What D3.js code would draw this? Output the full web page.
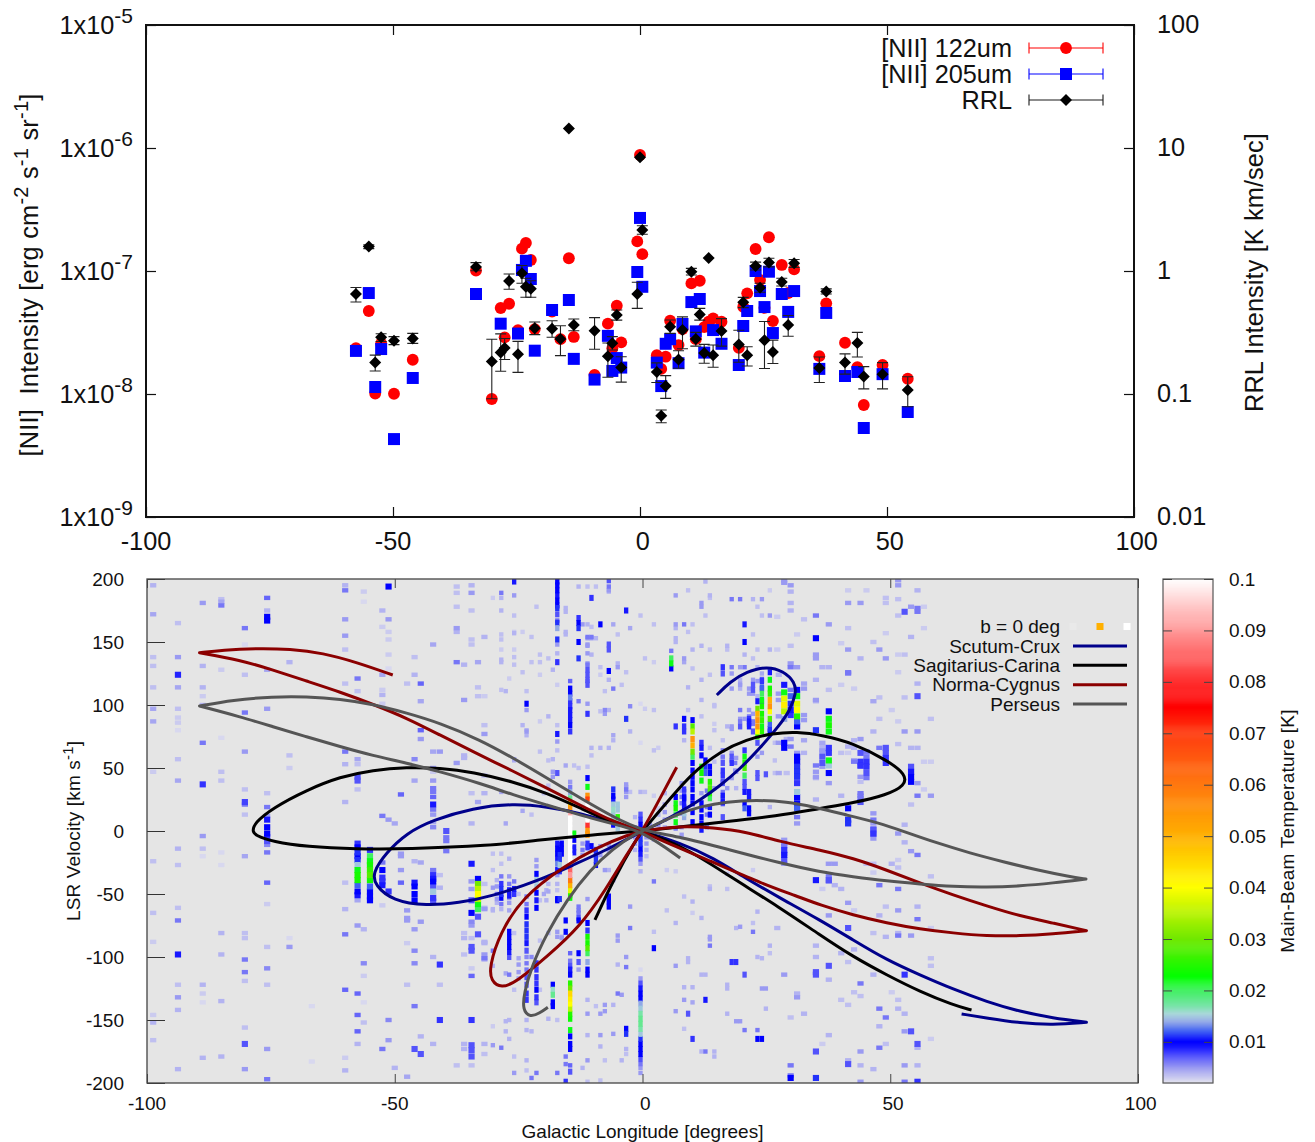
<!DOCTYPE html>
<html>
<head>
<meta charset="utf-8">
<script src="https://cdn.jsdelivr.net/npm/d3@7"></script>
<style>
html,body{margin:0;padding:0;background:#fff}
svg{display:block}
text{font-family:"Liberation Sans",Arial,sans-serif;fill:#111}
</style>
</head>
<body>
<svg id="c" width="1315" height="1142"></svg>
<script>
// ---------- top panel data ----------
const lon = [-57.5,-54.9,-53.6,-52.4,-49.8,-46,-33.2,-30,-28.2,-27.4,-26.5,-24.7,-23.9,-23.1,-22.1,-21.3,-17.8,-16.1,-14.4,-13.4,-9.2,-6.5,-5.6,-4.7,-3.8,-0.55,0,0.47,3.4,4.3,5.2,6.1,7.8,8.6,10.4,11.3,12.1,13,13.9,14.8,16.5,20,20.9,21.7,23.4,24.3,25.2,26.1,26.9,28.7,30,31.2,36.3,37.7,41.5,44,45.3,49.1,54.2];
// [NII] 122um, units of 1e-8 erg cm-2 s-1 sr-1
const nii122 = [2.36,4.73,1.01,2.58,1.005,1.90,10.1,0.91,5.0,2.89,5.42,3.31,15.2,16.9,12.3,3.37,4.67,2.79,12.7,2.91,1.43,3.73,2.36,5.22,2.63,17.4,87.7,13.7,2.07,1.60,2.01,3.94,2.50,3.37,7.93,2.79,8.33,3.50,3.87,4.12,3.87,2.37,5.12,6.58,15.1,8.45,5.02,18.8,3.92,11.2,6.62,10.3,2.03,5.46,2.61,1.65,0.814,1.72,1.33];
// [NII] 205um, same units
const nii205 = [2.24,6.62,1.14,2.32,0.43,1.35,6.50,null,3.73,null,null,3.10,10.2,12.1,8.61,2.25,4.82,null,5.81,1.93,1.31,2.97,1.54,1.96,1.64,9.81,27.0,7.44,1.80,1.16,2.56,2.79,1.78,3.71,5.59,3.23,5.92,2.17,null,3.31,2.56,1.72,3.57,4.73,10.0,6.87,5.09,9.87,3.13,6.50,4.65,6.87,1.60,4.56,1.40,1.51,0.529,1.45,0.714];
// RRL integrated intensity, K km/s
const rrl = [0.65,1.58,0.18,0.289,0.271,0.283,1.08,0.184,0.217,0.237,0.83,0.21,0.957,0.744,0.716,0.342,0.34,0.28,14.4,0.364,0.327,0.203,0.258,0.439,0.164,0.65,8.4,2.15,0.151,0.0666,0.116,0.352,0.191,0.331,0.987,0.28,0.443,0.215,1.275,0.207,0.325,0.253,0.557,0.207,1.10,0.73,0.273,1.17,0.22,0.815,0.364,1.155,0.163,0.68,0.18,0.26,0.139,0.145,0.108];
const rrlLow = [0.559,1.52,0.154,0.267,0.252,0.258,1.005,0.0916,0.153,0.191,0.71,0.15,0.794,0.611,0.611,0.304,0.289,0.205,null,0.327,0.231,0.137,0.228,0.399,0.125,0.497,null,1.99,0.124,0.0584,0.0922,0.311,0.162,0.233,0.928,0.245,0.399,0.178,null,0.165,0.245,0.181,0.504,0.169,1.02,0.671,0.161,1.08,0.177,0.756,0.295,1.07,0.124,0.65,0.145,0.20,0.11,0.11,0.0788];
const rrlHigh = [0.734,1.63,0.207,0.309,0.293,0.311,1.17,0.279,0.308,0.283,0.945,0.268,1.11,0.873,0.833,0.385,0.394,0.359,null,0.407,0.418,0.26,0.293,0.482,0.201,0.81,null,2.33,0.179,0.0741,0.141,0.40,0.225,0.424,1.05,0.317,0.497,0.253,null,0.25,0.41,0.33,0.61,0.242,1.18,0.794,0.388,1.27,0.274,0.874,0.435,1.24,0.20,0.715,0.212,0.317,0.167,0.18,0.138];
const topXTicks = [-100,-50,0,50,100];
const leftExp = [-5,-6,-7,-8,-9];
const rightTicks = [100,10,1,0.1,0.01];
const topLegend = ["[NII] 122um","[NII] 205um","RRL"];

// ---------- bottom panel data: spiral arms, [longitude deg, velocity km/s] ----------
const scutumCrux = [[15,107.9],[17.7,118.5],[21,126.4],[25.1,130.8],[28.4,127],[30.8,118],[31,109.3],[29.8,96],[27.7,84.1],[23.7,65.6],[19.7,49.4],[15.6,35.7],[11.6,24.6],[7.6,15.1],[3.5,6.3],[0,0],[-7.2,-15],[-14,-27],[-20.7,-38.9],[-30.8,-52.4],[-37,-57],[-43.6,-59.4],[-50.4,-55.4],[-54,-43],[-54.5,-33.3],[-51.8,-17.5],[-47.6,-1.6],[-42.3,8.7],[-34.2,18.3],[-26.1,21.8],[-19.3,19.3],[-12.6,14.3],[-6,6.3],[0,0],[7.6,-9.5],[14.2,-21],[21,-38],[27.7,-53],[35.8,-70.6],[42.5,-86.5],[49.3,-102.4],[56,-114.3],[62.7,-125.6],[69.5,-135.5],[76.2,-143.4],[82.8,-148.4],[89.6,-151.8],[89.6,-151.8],[89.6,-151.8],[82.8,-154],[76.2,-152.4],[69.5,-148.4],[64.4,-145.2]];
const sagCarina = [[-9.6,-70.6],[-5.9,-38.9],[-1.2,-6],[0,0],[7.6,35.2],[10.9,48.4],[15.6,62.9],[21,72.8],[26.3,77.5],[31.1,78.8],[36.4,75.9],[42.5,69.8],[49.3,56.3],[53.2,45],[53,36],[49.3,28.6],[42.5,22.2],[35.8,18],[27.7,12.1],[14.2,6.3],[7.6,3.2],[0,0],[-10.6,-3.2],[-20.7,-7.1],[-30.8,-11.7],[-47.6,-14.3],[-57.7,-14.3],[-67.8,-12.5],[-74.6,-8.5],[-78.3,-3.2],[-78.7,0],[-78.3,6.3],[-74.6,18.3],[-67.8,32.5],[-61,43.1],[-54.4,48.4],[-47.6,50.6],[-40.9,50],[-34.2,46.8],[-26.1,39.1],[-19.3,30.2],[-12.6,18.3],[-6,6.3],[0,0],[8.9,-13.5],[17.7,-36.3],[27.7,-60.7],[35.8,-82.5],[42.5,-99.8],[49.3,-114.3],[56,-127.5],[62.7,-138.1],[66.4,-142.1]];
const normaCygnus = [[6.9,50.6],[3.45,25.3],[0,0],[-3.9,-23],[-7.2,-45.2],[-12.6,-76],[-19.3,-99.8],[-25.4,-119.6],[-28.5,-125],[-30.6,-119],[-30.9,-107.7],[-28.8,-81],[-24.1,-52.1],[-16,-28.3],[-9.2,-13],[-2.5,-2.4],[0,0],[7.6,4.2],[14.2,2.6],[21,-0.6],[27.7,-8.5],[35.8,-15],[42.5,-21.6],[49.3,-31],[56,-41.3],[62.7,-50.8],[69.5,-59.5],[76.2,-67.5],[82.8,-73],[89.6,-79.1],[89.6,-79.1],[89.6,-79.1],[82.8,-81.7],[76.2,-83.3],[69.5,-83.3],[62.7,-81],[56,-77.8],[49.3,-73],[42.5,-66.7],[35.8,-58.7],[31.1,-51.6],[24.3,-42],[14.2,-24.6],[3.5,-7.1],[0,0],[-6,7.4],[-12.6,20.6],[-19.3,34.1],[-26.1,47.5],[-34.2,62.9],[-40.9,76.2],[-47.6,89.7],[-54.4,100.6],[-61,110.3],[-67.8,119],[-74.6,127.8],[-81.2,135.7],[-89.4,141.5],[-89.4,141.5],[-89.4,141.5],[-84.7,143.7],[-77.9,144.9],[-71.1,144.4],[-64.5,141.3],[-57.7,133.9],[-50.4,123.8]];
const perseus = [[-19.1,-139.9],[-20.7,-144.4],[-22.7,-147.9],[-24.2,-142.1],[-23.9,-128.6],[-22.4,-107.7],[-19.3,-81],[-15.3,-54.8],[-10.6,-31],[-6,-14.1],[-1.2,-1.6],[0,0],[7.6,14.3],[11.6,19.3],[17,23.3],[23,24.6],[29.1,23.3],[34.4,19.3],[41.2,12.7],[47.9,6.3],[52.6,-0.2],[59.4,-9.5],[66.1,-17.5],[72.8,-24.4],[79.6,-31],[86.3,-36.3],[89.5,-38.1],[89.5,-38.1],[89.5,-38.1],[82.8,-41.3],[76.2,-43.7],[69.5,-44.7],[62.7,-44.2],[56,-42.1],[49.3,-39.7],[42.5,-36.3],[35.8,-32.5],[27.7,-25.4],[17.7,-15.1],[7.6,-4.5],[0,0],[-6,11.3],[-12.6,26.2],[-19.3,42.1],[-26.1,57.9],[-32.8,72.4],[-40.9,85.7],[-47.6,93.7],[-54.4,100.6],[-61,104.8],[-67.8,106.6],[-74.6,106.6],[-82.7,104],[-89.4,99.2],[-89.4,99.2],[-89.4,99.2],[-81.2,90.7],[-74.6,82.8],[-67.8,74.8],[-61,66.9],[-54.4,59.8],[-47.6,54],[-40.9,47.1],[-32.8,37.9],[-26.1,28.6],[-19.3,20.6],[-12.6,12.7],[-6,5.6],[0,0],[7.6,-21.4]];
const armNames = ["Scutum-Crux","Sagitarius-Carina","Norma-Cygnus","Perseus"];
const armColors = ["#00008b","#000000","#8b0000","#555555"];

// ---------- bottom panel data: brightness cells, [lon deg, [v km/s, T mK, ...]] ----------
const heatColumns = [
[-98.75,[195,4,172,4.5,138,3.5,131,3.5,114,3.5,97,4.5,87,4.5,47,3,-24,3.5,-65,3.5,-88,3,-146,3,-152,4,-166,3.5]],
[-93.75,[165,3.5,138,5,124,8.5,114,4.5,97,3.5,90,3,86,3,80,2.5,57,3.5,40,4.5,-14,4,-27,3.5,-61,3.5,-71,6,-98,9,-122,3.5,-132,5,-142,4,-189,4]],
[-88.75,[181,5,131,4,114,4,107,3,100,4,70,6,37,8,-4,5,-14,3.5,-20,2.5,-122,4,-129,3,-136,2.5,-180,4]],
[-85,[184,3.5,182,4.5,179,6,128,3,74,2.5,47,3.5,40,3.5,-17,2.5,-27,2.5,-81,4,-98,4,-135,4,-179,4]],
[-80.25,[161,6,148,2.5,124,3.5,94,6,63,5,33,3.5,23,7.5,21,6,13,3.5,-20,4.5,-81,3.5,-85,3.5,-102,6,-112,6,-119,3.5,-156,3.5,-169,7,-189,5]],
[-75.75,[185,6.5,175,4,170,10,167,10,128,4.5,97,5,30,3.5,19,6,12,5,9,9,3,10,-2,10,-5,8,-8,7,-11,5.5,-17,6,-41,6.5,-58,3,-92,3.5,-109,5.5,-122,3.5,-173,5,-197,6]],
[-71.25,[134,4,60,3.5,50,3,-92,5,-85,2.5]],
[-66.75,[-139,2.5,-183,2.5]],
[-60,[195,4,191,6,168,5,155,5,144,3.5,117,3.5,63,6,53,4,23,4,-41,3.5,-62,4,-82,6,-126,6.5,-180,3,-190,4]],
[-57.5,[121,6,111,3.5,57,4.5,53,3.5,43,7,40,7,33,3.5,-10,8,-13,10,-17,11,-20,10,-23,11,-27,15,-31,22,-35,24,-39,24,-43,12,-48,10,-51,9,-55,4.5,-75,5,-129,6.5,-146,6.5,-159,6.5,-169,4]],
[-56.25,[190,3,182,2.5,-78,4,-105,5.5,-115,3,-136,2.5,-152,3.5]],
[-55,[-15,8,-20,20,-24,22,-27,24,-31,26,-35,28,-39,24,-44,12,-48,10,-52,10,-55,10]],
[-52.5,[175,4,162,3,124,4.5,112,3,108,4,101,3,12,6,-25,6,-31,10,-37,8,-40,8,-43,9,-59,3,-173,6]],
[-51.25,[194,10,168,5,158,3,152,3,140,3,129,2.5,9,5,-48,8,-150,5.5,-166,5]],
[-50,[6,4.5,-188,4]],
[-48.75,[29,6.5,-18,5,-20,5,-31,5,-41,6.5]],
[-47.5,[117,3.5,-63,5,-69,5,-71,5,-89,3,-122,3.5,-195,4.5]],
[-46,[138,3.5,124,4,57,5.5,40,4.5,-24,4,-41,9,-44,10,-50,10,-55,10,-78,5,-95,5.5,-105,5.5,-139,6,-173,7]],
[-44.75,[117,6.5,103,4.5,80,6.5,73,5,-25,4.5,-72,5,-163,4,-177,7]],
[-42.25,[148,4.5,63,4.5,47,3,50,5,40,5,34,6,31,6,27,6.5,21,9,17,6,13,5,7,4.5,3,5.5,-31,6,-35,8,-38,9,-40,10,-44,7,-48,15,-53,8,-56,7,-100,4,-169,4]],
[-40.9,[63,5,-35,3.5,-45,4,-106,8,-122,3.5,-150,8]],
[-39.6,[0,7,-5,6,-8,6,-16,6]],
[-37.5,[194,3.5,189,3.5,178,3.5,161,5,158,4,134,6,54,5,-186,3.5]],
[-36,[132,4,104,5,60,4,58,4,-81,3.5,-85,4,-98,3.5,-169,4,-173,4]],
[-34.5,[195,4,189,5,175,3.5,152,3.5,148,3.5,30,3.5,6,4,-26,9,-40,5,-46,5,-55,7,-65,10,-72,5.5,-75,5,-85,3.5,-92,7,-95,7,-109,3,-115,6.5,-150,8,-170,7,-174,7,-179,7,-186,3.5]],
[-33.2,[134,4.5,114,3.5,107,3.5,23,4.5,-38,10,-42,30,-46,35,-50,40,-54,35,-58,22,-62,20,-68,7,-82,7]],
[-31.9,[154,4,84,3.5,77,5,44,3.5,30,4,-42,3.5,-62,5,-89,4,-98,5,-102,4,-61,4,-88,4,-101,6,-169,4,-177,3.5,107,3]],
[-30.2,[185,3,-18,3.5,-31,3.5,-45,5,-62,4,-63,4,-95,6,-107,4,-155,3,-170,5]],
[-29.4,[-39,4,-44,5,-50,6,-54,5,-57,4]],
[-28.5,[189,6,185,4,175,4,156,3.5,152,3.5,144,3,136,4,134,4,112,3.5,31,4.5,-18,3.5,-26,3.5,-36,6,-42,8,-46,11,-50,11,-53,10,-58,6,-62,4,-172,6]],
[-27.6,[111,4,6,4.5,-113,4.5,-151,4,-159,4]],
[-26.9,[121,3,-22,4,-36,5,-42,6,-47,9,-51,9,-52,7,-57,5,-63,4.5,-80,10,-84,10,-88,10,-92,10,-96,9,-100,7,-114,6,-150,4,-165,4]],
[-25.9,[198,9,187,5,171,3.5,158,3,157,4,144,3,138,3.5,132,3.5,57,4.5,56,4,-40,6,-46,9,-50,8,-81,3.5,-126,3.5,-179,3.5,-192,5]],
[-25,[-50,3.5,-101,4.5,-106,5,-112,5,-117,4.5]],
[-24.2,[158,3,126,3.5,84,4,16,4.5]],
[-23.4,[111,3.5,101,10,96,5,80,4,79,5,76,4,-52,6,-58,6,-63,8,-68,10,-74,11,-79,11,-84,11,-89,9,-95,7,-100,5.5,-105,6,-110,6,-116,7,-122,7,-129,8,-134,8,-150,4,-158,4,-182,4,-190,3.5]],
[-22.4,[154,3.5,134,3.5,13,3.5,-100,5.5,-159,4,-196,6]],
[-21.4,[178,3.5,-23,5,-28,5,-34,10,-39,15,-44,15,-49,10,-55,9,-61,10,-105,8,-110,8,-116,8,-121,8,-126,10,-132,8,-136,7,-192,6]],
[-20.7,[140,3.5,134,3.5,124,3,87,3,63,3.5,-55,3.5,-87,3.5,-126,3.5]],
[-19.9,[30,3.5,-39,4,-50,4.5]],
[-19.4,[-47,4,-55,4]],
[-19,[137,3.5,91,4,56,3.5,36,3.5,-42,4,-48,4.5,-81,4,-149,4]],
[-18.1,[128,4,57,4,47,5,43,5,-122,10,-126,16,-130,18,-136,10,-139,10]],
[-17.2,[198,10,195,10,191,10,187,9,183,10,179,10,177,11,172,7,167,6.5,165,11,161,14,152,11,148,5,141,4,134,8,116,3,84,3.5,77,9,71,5,64,3.5,46,7,-10,9,-14,10,-18,10,-22,9,-26,13,-31,9,-35,5,-42,4,-47,3.5,-54,10,-55,10,-80,5,-84,5,-150,3.5,-192,6]],
[-16.7,[-11,8,-15,10,-19,11,-23,11,-27,15,-32,8,-54,11]],
[-16.3,[-10,10,-14,10,-18,10,-84,4.5,-85,5]],
[-15.5,[177,4,174,4,158,4,156,4,52,4.5,-71,10,-80,10,-179,6,-185,6,-199,8]],
[-14.6,[119,6.5,113,10,109,10,106,13,103,8,99,8,96,9,92,9,88,9,84,10,79,8,39,5,35,6,31,14,26,18,22,45,18,55,14,92,10,100,6,100,2,100,-2,100,-5,100,-9,100,-13,100,-17,100,-20,100,-24,100,-31,85,-35,90,-39,60,-43,50,-47,38,-51,25,-53,23,-97,6.5,-103,6,-107,7,-110,9,-114,10,-121,25,-125,30,-129,45,-133,42,-137,40,-141,35,-145,25,-149,23,-158,22,-163,10,-169,10,-173,10,-186,6.5,-191,7]],
[-13.8,[52,3.5,-2,22,-7,10,-13,9,-17,9]],
[-12.9,[194,4,169,8,165,10,161,11,150,10,137,11,103,6,50,3.5,-60,6,-63,6,-65,6,-69,7,-71,10,-97,10,-104,7,-110,5]],
[-12.1,[164,5,-10,5,-15,6,-19,5,-188,4]],
[-11.1,[194,3.5,164,4,154,6,153,5,148,5,147,5,141,5,133,5,132,6,128,7,124,7,120,7,119,6,116,7,101,5,93,8,51,3.5,42,10,35,22,28,55,25,70,21,100,17,100,13,100,9,100,5,80,1,55,-3,55,-2,50,-10,8,-13,8,-54,5,-73,10,-79,8,-84,24,-89,24,-93,28,-97,20,-104,14,-110,10,-114,10,-134,4,-145,5,-162,4,-182,5,-199,3.5]],
[-10.3,[185,8,162,3.5,154,6,153,5,140,4,66,4,60,3.5,-12,10]],
[-9.4,[194,3.5,153,4,-15,11,-19,11,-23,11,-27,10,-139,3.5]],
[-8.5,[164,10,130,3.5,124,3,95,3.5,66,4,-12,5,-19,5,-145,5,-162,5,-171,4,-198,3.5]],
[-7.6,[111,3.5,96,5.5,93,5,-31,5,-138,5,-143,5,-182,3.5]],
[-6.8,[199,7,194,6,191,5,190,4,148,7,144,7,127,10,120,4,96,4,66,4,-11,5,-16,4.5,-31,4,-52,10,-56,10,-60,10]],
[-5.9,[164,4.5,113,6,76,4.5,72,4,33,11,28,10,25,9,21,15,17,16,13,15,9,15,5,10,-39,5,-138,4,-161,5]],
[-5,[156,3.5,133,4,130,5,21,15,17,15,11,25,6,14,2,15,-83,5,-87,5,-106,4,-129,6]],
[-4.2,[116,3.5,-130,5,-182,4]],
[-3.3,[175,9,126,3.5,89,11,37,5,35,5,33,6,31,5,27,5,-100,5,-108,6,-157,10,-161,11,-173,4,-177,3.5]],
[-2.5,[161,4.5,99,5.5,79,4,31,3.5,-60,5,-77,6]],
[-1.5,[11,4,3,5,-5,5,-10,5,-15,4]],
[-0.4,[171,3.5,101,2.5,70,2.5,31,4,13,7,9,8,5,10,1,10,-2,12,-6,11,-10,11,-14,10,-18,9,-22,7,-26,5,-32,4,-110,2.5,-117,5,-121,7,-125,9,-129,10,-133,10,-137,14,-141,15,-145,17,-149,18,-153,18,-157,17,-161,15,-165,11,-169,10,-173,10,-177,10,-181,7,-185,6,-188,5,-192,5]],
[0.5,[137,3.5,97,3,31,3.5]],
[0.8,[-5,5,-10,5,-15,4,-20,3.5]],
[1.5,[5,5,-5,5]],
[2.3,[164,3.5,134,3,96,3.5,64,3.5,28,3,-7,3.5,-40,6,-80,3.5,-93,10]],
[3.2,[66,3,18,3,13,4,5,5]],
[4.5,[30,4,21,5,15,5,9,5,3,4]],
[4.9,[-31,3,-63,3.5]],
[5.8,[143,6,137,20,133,22,129,10]],
[6.7,[187,5,164,5,161,4,153,4,150,4,83,8,27,10,22,22,18,24,13,20,7,22,2,6,-32,3,-73,4,-107,5,-143,5]],
[7.9,[38,5,32,5,27,6,22,6,14,6,3,5,-3,5]],
[8.4,[164,6,137,5,134,4.5,89,10,83,8,79,8,72,4,33,8,31,7,27,9,22,9,19,7,18,9,26,10,14,15,11,14,-52,3.5,-124,4,-134,5,-157,3.5]],
[9.2,[191,3.5,158,3.5,114,4,96,3.5,-101,4,-104,4,-145,7]],
[10.1,[164,3.5,144,4,129,3.5,88,10,83,28,79,35,73,55,68,50,63,30,59,20,54,10,48,10,43,10,38,10,33,10,27,10,22,10,15,10,7,10,-56,4,-65,3,-124,4,-136,4.5,-165,8]],
[11.9,[181,5,178,5,147,4,120,4,104,4,91,3.5,70,8,66,9,60,10,51,22,46,24,40,22,30,5,22,10,17,10,11,10,6,10,1,9,-69,4,-114,4,-175,4]],
[12.7,[198,4,171,3.5,56,10,51,11,46,12,-114,4,-134,9,-175,6]],
[13,[32,6,19,6,13,6,3,6]],
[13.6,[187,4,185,3.5,144,3.5,124,3.5,66,3.5,51,10,47,5,46,10,39,25,34,28,30,25,26,20,19,9,13,10,-44,3.5,-46,4,-84,5,-86,5,-91,6]],
[14.5,[100,3.5,99,3.5,85,3,80,3.5,55,3.5,34,5,-175,4,-179,4]],
[16.2,[130,8,125,7,72,3.5,64,6,59,6,58,4.5,54,7,48,8,44,8,39,7,38,7,31,6,28,9,27,6,23,9,22,7,11,7]],
[17.1,[147,4,144,3.5,83,4,34,5,-34,3.5,-46,3.5,-122,4,-125,4,-145,4]],
[18,[184,6,130,6,125,5,113,5,83,5,81,5,62,5,59,7,56,6,54,8,42,5,-104,8]],
[18.7,[54,6,48,5]],
[18.9,[58,5,47,5,34,4,-77,4,-104,8,-151,5]],
[19.7,[184,6,130,5,120,4,117,4.5,116,5,113,4,96,6,89,5,87,6,83,7,-76,5,-151,5]],
[20.6,[164,9,150,10,140,4,130,6,89,5,64,8,59,22,54,25,50,28,44,20,39,7,35,7,31,9,22,10,18,12,-114,7,-158,6]],
[21.5,[113,5,109,5,96,5,91,5.5,89,8,87,9,85,8,83,9,31,9,27,9,18,10,14,10]],
[22.3,[184,4,156,3.5,137,3.5,120,5,116,7,112,7,109,5,93,5,87,6,85,6,79,7,-31,3,-73,3.5,-80,6]],
[23.2,[178,3.5,144,3.5,130,4,119,5,107,4,103,9,97,30,93,50,88,55,83,55,79,40,75,25,70,7,59,5,46,7,42,7,-64,4,-100,4,-158,6,-165,10]],
[24.1,[184,5,171,3.5,125,4.5,120,7,119,8,114,12,113,8,109,20,104,22,103,8,99,24,93,24,88,26,83,22,79,25,62,5,-101,4,-125,5,-165,10]],
[24.9,[45,7,-125,5,-141,4]],
[25.7,[191,3,171,5,144,4,126,9,120,22,113,24,109,26,104,50,99,55,95,40,89,28,85,12,81,11,79,10,19,4,-91,4,-97,3.5]],
[26.7,[70,3.5,56,3.5,46,3.5]],
[27.2,[170,3,144,3,-77,4]],
[27.5,[124,4,109,5,104,5,91,5,70,5,46,4.5]],
[28.6,[199,5,197,5,116,9,110,22,105,38,100,42,95,35,89,14,70,10,66,10,-7,5,-12,6,-18,6,-10,6,-15,8,-19,9,-23,7,-26,5,-114,5]],
[29.1,[73,4,46,3.5]],
[29.9,[195,5,190,4,181,4,175,4,147,3.5,133,5,130,6,112,6,107,12,101,11,96,9,92,8,73,5,67,6,-148,3.5,-186,6,-194,6,-196,10]],
[31.2,[156,3,130,5,112,10,107,22,101,38,96,40,91,25,87,12,83,10,62,5,59,10,55,10,51,11,47,11,43,11,38,8,31,15,27,10,22,10,18,12,11,6,6,5,-129,4,-132,5]],
[32.6,[168,3.5,117,4.5,113,5,92,5,88,5,72,4.5,62,4,-145,4]],
[35,[171,6,153,10,140,5,137,5,120,4,104,5,103,4,80,11,52,6,47,5,43,5,42,4,25,4,-39,9,-91,4,-100,4,-112,7,-114,7,-175,7,-196,11]],
[36.3,[130,4,70,4.5,67,4,64,5,63,5,59,7,54,7,51,5,-46,3,-169,3]],
[37.6,[164,5,130,4,112,3.5,95,10,89,22,84,24,79,22,66,8,62,8,56,22,52,15,46,10,38,5,-26,5,-36,6,-39,7,-40,6,-67,5,-107,7,-118,4,-162,4]],
[38.8,[-26,5,-43,4]],
[40.1,[149,3,116,3,62,3.5,28,4,-46,4,-97,4,-134,3.5]],
[41.5,[191,3,181,5,161,3.5,144,5,126,6,125,6,67,4,62,3,18,10,9,11,6,11,-57,5,-77,7,-104,3.5,-138,3.5,-182,4,-185,7]],
[42.7,[113,3,72,4,66,4,56,5,55,6,-63,3,-94,4,-128,3.5]],
[44,[181,5,137,4,73,5,62,7,55,8,52,8,51,6,43,5,39,3.5,30,6,28,6,26,6,23,7,-121,6,-131,3.5,-175,5,-186,4,-199,5]],
[45.2,[191,3,63,6,62,5,59,6,55,8,51,8,46,7,42,6,-26,3.5]],
[46.6,[150,3.5,103,4.5,79,4,14,5,9,6,1,7,-3,6,6,5,2,6,-2,8,-6,5,-26,3.5,-33,3,-81,3.5,-114,4,-189,4]],
[47.8,[144,5,106,3.5,89,3.5,66,6,-43,6,-67,4,-141,6,-155,4,-172,6]],
[49.1,[185,3.5,181,3.5,157,3,137,5,66,7,62,7,58,8,54,8,-60,3.5,-84,4,-148,6,-169,3.5]],
[50.3,[96,3,-26,4,-128,3]],
[51.6,[199,5,195,5,184,3.5,171,3.5,140,3,126,3,87,3,69,3.5,-2,5,-23,3,-29,3.5,-46,6,-63,5,-81,4,-83,6,-134,3.5,-141,4]],
[52.9,[174,7,140,3.5,106,3.5,79,5,5,4,-9,4,-114,8,-145,4,-159,5,-186,5,-199,6]],
[54.2,[178,5,154,4,66,4,51,7,47,9,43,10,39,10,21,3.5,-16,5,-83,5,-159,7]],
[55.5,[191,4,177,6,174,6,117,4,107,7,79,5,66,4,38,5,28,6,-19,6,-60,4,-70,6,-169,7,-172,4,-186,4,-199,8]],
[56.8,[178,3,161,3,55,3,33,3]],
[58.2,[89,3.5,55,3,28,5,-36,3.5,-77,3,-101,3.5,-107,3.5,-165,3]]
];
const cbStops = [2,5,8,10,12,14,15.5,17,20,22.5,30,40,50,60,70,75,80,90,100];
const cbColors = ["#e4e4ee","#9a9af2","#3030ff","#0000ff","#4060f4","#90a8e6","#a8d8d8","#78e4a8","#40f060","#00ff00","#70e800","#ffff00","#ffb000","#ff7810","#ff3c10","#ff0000","#ff3030","#ff9898","#ffffff"];
const cbTicks = [0.1,0.09,0.08,0.07,0.06,0.05,0.04,0.03,0.02,0.01];
const botXTicks = [-100,-50,0,50,100];
const botYTicks = [200,150,100,50,0,-50,-100,-150,-200];

// ---------- drawing ----------
const svg = d3.select("#c");
const defs = svg.append("defs");
defs.append("clipPath").attr("id","plot2").append("rect").attr("x",147).attr("y",579).attr("width",991).attr("height",504);
defs.append("filter").attr("id","soft").attr("filterUnits","userSpaceOnUse").attr("x",100).attr("y",560).attr("width",1100).attr("height",540)
  .append("feGaussianBlur").attr("stdDeviation",0.45);

function styleAxis(g, color, sw){
  g.select(".domain").remove();
  g.selectAll("line").attr("stroke",color).attr("stroke-width",sw);
}
const labelShift = v => v>=0 ? 2.7 : 0;

// top panel
const xT = d3.scaleLinear().domain([-100,100]).range([146,1134]);
const yT = d3.scaleLog().domain([1e-9,1e-5]).range([517,25]);
const yR = d3.scaleLog().domain([0.01,100]).range([517,25]);
const fTop = 25.3;

svg.append("g").attr("transform","translate(0,517)")
  .call(d3.axisBottom(xT).tickValues(topXTicks).tickSize(-10).tickFormat(""))
  .call(g=>styleAxis(g,"#111",1.2));
topXTicks.forEach(v=>svg.append("text").attr("x",xT(v)+labelShift(v)).attr("y",550).attr("text-anchor","middle").attr("font-size",fTop).text(v));
svg.append("g").attr("transform","translate(0,25)")
  .call(d3.axisTop(xT).tickValues(topXTicks).tickSize(-10).tickFormat(""))
  .call(g=>styleAxis(g,"#111",1.2));
svg.append("g").attr("transform","translate(146,0)")
  .call(d3.axisLeft(yT).tickValues(leftExp.map(e=>Math.pow(10,e))).tickSize(-10).tickFormat(""))
  .call(g=>styleAxis(g,"#111",1.2));
leftExp.forEach(e=>{
  const t = svg.append("text").attr("x",133).attr("y",yT(Math.pow(10,e))+9).attr("text-anchor","end").attr("font-size",fTop);
  t.append("tspan").text("1x10");
  t.append("tspan").attr("dy",-11).attr("font-size",21).text(e);
});
svg.append("g").attr("transform","translate(1134,0)")
  .call(d3.axisRight(yR).tickValues(rightTicks).tickSize(-10).tickFormat(""))
  .call(g=>styleAxis(g,"#111",1.2));
rightTicks.forEach(v=>{
  svg.append("text").attr("x",1157).attr("y",yR(v)+8).attr("font-size",fTop).text(v);
});
svg.append("rect").attr("x",146).attr("y",25).attr("width",988).attr("height",492).attr("fill","none").attr("stroke","#111").attr("stroke-width",2);

// y titles top
const ttl = svg.append("text").attr("transform","translate(38,275) rotate(-90)").attr("text-anchor","middle").attr("font-size",fTop).style("letter-spacing","0.25px");
[["[NII]  Intensity [erg cm",0],["-2",1],[" s",0],["-1",1],[" sr",0],["-1",1],["]",0]].forEach((p,i,a)=>{
  const prev = i? a[i-1][1]:0;
  ttl.append("tspan").style("white-space","pre")
     .attr("dy",(p[1]-prev)*-10).attr("font-size",p[1]?20:fTop).text(p[0]);
});
svg.append("text").attr("transform","translate(1263,272.5) rotate(-90)").attr("text-anchor","middle").attr("font-size",fTop).style("letter-spacing","0.12px").text("RRL Intensity [K km/sec]");

// series
const gTop = svg.append("g");
const points122 = lon.map((l,i)=>({l,v:nii122[i]})).filter(d=>d.v!==null);
const points205 = lon.map((l,i)=>({l,v:nii205[i]})).filter(d=>d.v!==null);
const pointsRRL = lon.map((l,i)=>({l,v:rrl[i],lo:rrlLow[i],hi:rrlHigh[i]}));
const sym = (type,size)=>d3.symbol().type(type).size(size)();
gTop.selectAll(".r").data(points122).join("path").attr("d",sym(d3.symbolCircle,110)).attr("fill","#ff0000")
  .attr("transform",d=>`translate(${xT(d.l)},${yT(d.v*1e-8)})`);
gTop.selectAll(".b").data(points205).join("path").attr("d",sym(d3.symbolSquare,144)).attr("fill","#0000ff")
  .attr("transform",d=>`translate(${xT(d.l)},${yT(d.v*1e-8)})`);
const errs = pointsRRL.filter(d=>d.lo!==null);
gTop.selectAll(".e").data(errs).join("path").attr("fill","none").attr("stroke","#222").attr("stroke-width",1.1)
  .attr("d",d=>{const x=xT(d.l),a=yR(d.lo),b=yR(d.hi);return `M${x},${a}V${b}M${x-5.5},${a}h11M${x-5.5},${b}h11`;});
gTop.selectAll(".k").data(pointsRRL).join("path").attr("d",sym(d3.symbolSquare,72)).attr("fill","#000")
  .attr("transform",d=>`translate(${xT(d.l)},${yR(d.v)}) rotate(45)`);

// top legend
[0,1,2].forEach(i=>{
  const y=[48,74,100][i], col=["#ff0000","#0000ff","#000"][i], x1=1029,x2=1103;
  svg.append("text").attr("x",1012).attr("y",y+9).attr("text-anchor","end").attr("font-size",fTop).text(topLegend[i]);
  svg.append("path").attr("d",`M${x1},${y}H${x2}M${x1},${y-5.5}v11M${x2},${y-5.5}v11`).attr("stroke",col).attr("stroke-width",1.1).attr("fill","none").attr("opacity",i==2?0.9:1);
  const s = i==0?sym(d3.symbolCircle,110):i==1?sym(d3.symbolSquare,144):sym(d3.symbolSquare,72);
  svg.append("path").attr("d",s).attr("fill",col).attr("transform",`translate(1066,${y})`+(i==2?" rotate(45)":""));
});

// bottom panel
const xB = d3.scaleLinear().domain([-100,100]).range([147,1138]);
const yB = d3.scaleLinear().domain([-200,200]).range([1083,579]);
const color = d3.scaleLinear().domain(cbStops).range(cbColors).clamp(true);
svg.append("rect").attr("x",147).attr("y",579).attr("width",991).attr("height",504).attr("fill","#e5e5e5");
const cells = [];
heatColumns.forEach(c=>{
  for(let i=0;i<c[1].length;i+=2) cells.push({l:c[0],v:c[1][i],t:c[1][i+1]});
});
cells.sort((a,b)=>a.t-b.t);
const halfW = l => (l>-31 && l<27) ? 0.4375 : 0.625;
const halfH = t => t>=7 ? 2.4 : 1.75;
const gHeat = svg.append("g").attr("clip-path","url(#plot2)").append("g").attr("filter","url(#soft)");
gHeat.selectAll("rect").data(cells).join("rect")
  .attr("x",d=>xB(d.l-halfW(d.l))).attr("width",d=>xB(d.l+halfW(d.l))-xB(d.l-halfW(d.l)))
  .attr("y",d=>yB(d.v+halfH(d.t))).attr("height",d=>yB(d.v-halfH(d.t))-yB(d.v+halfH(d.t)))
  .attr("fill",d=>color(d.t));

svg.append("g").attr("transform","translate(0,1083)")
  .call(d3.axisBottom(xB).tickValues(botXTicks).tickSize(-9).tickFormat(""))
  .call(g=>styleAxis(g,"#444",1));
svg.append("g").attr("transform","translate(0,579)")
  .call(d3.axisTop(xB).tickValues(botXTicks).tickSize(-9).tickFormat(""))
  .call(g=>styleAxis(g,"#444",1));
svg.append("g").attr("transform","translate(147,0)")
  .call(d3.axisLeft(yB).tickValues(botYTicks).tickSize(-18).tickFormat(""))
  .call(g=>styleAxis(g,"#333",1));
const fBot = 19;
botXTicks.forEach(v=>svg.append("text").attr("x",xB(v)+labelShift(v)).attr("y",1110).attr("text-anchor","middle").attr("font-size",fBot).text(v));
botYTicks.forEach(v=>svg.append("text").attr("x",124).attr("y",yB(v)+6.5).attr("text-anchor","end").attr("font-size",fBot).text(v));
svg.append("text").attr("x",642.5).attr("y",1138).attr("text-anchor","middle").attr("font-size",fBot).text("Galactic Longitude [degrees]");
const vt = svg.append("text").attr("transform","translate(80,831) rotate(-90)").attr("text-anchor","middle").attr("font-size",fBot).style("letter-spacing","0.15px");
vt.append("tspan").text("LSR Velocity [km s");
vt.append("tspan").attr("dy",-7).attr("font-size",15).text("-1");
vt.append("tspan").attr("dy",7).text("]");

// arms
const armLine = d3.line().x(d=>xB(d[0])).y(d=>yB(d[1])).curve(d3.curveBasis);
const gArms = svg.append("g").attr("clip-path","url(#plot2)");
[scutumCrux,sagCarina,normaCygnus,perseus].forEach((pts,i)=>{
  gArms.append("path").attr("d",armLine(pts)).attr("fill","none").attr("stroke",armColors[i]).attr("stroke-width",3).attr("stroke-linejoin","round");
});
svg.append("rect").attr("x",147).attr("y",579).attr("width",991).attr("height",504).attr("fill","none").attr("stroke","#444").attr("stroke-width",1.3);

// bottom legend
svg.append("text").attr("x",1060).attr("y",633).attr("text-anchor","end").attr("font-size",fBot).text("b = 0 deg");
[["#e9e9e9",1073],["#ffb000",1100],["#ffffff",1127]].forEach(p=>{
  svg.append("rect").attr("x",p[1]-3.5).attr("y",623).attr("width",7).attr("height",7).attr("fill",p[0]);
});
armNames.forEach((n,i)=>{
  const y=[646,665.3,684.7,704][i];
  svg.append("text").attr("x",1060).attr("y",y+6.5).attr("text-anchor","end").attr("font-size",fBot).text(n);
  svg.append("line").attr("x1",1073).attr("x2",1127).attr("y1",y).attr("y2",y).attr("stroke",armColors[i]).attr("stroke-width",3);
});

// colour bar
const yC = d3.scaleLinear().domain([0.002,0.1]).range([1083,579]);
const cbSteps = d3.range(0.002,0.1,0.0002);
svg.append("g").selectAll("rect").data(cbSteps).join("rect")
  .attr("x",1163).attr("width",50).attr("y",d=>yC(d+0.0002)).attr("height",d=>yC(d)-yC(d+0.0002)+0.5)
  .attr("fill",d=>color(d*1000));
svg.append("rect").attr("x",1163).attr("y",579).attr("width",50).attr("height",504).attr("fill","none").attr("stroke","#555").attr("stroke-width",1.2);
svg.append("g").attr("transform","translate(1163,0)")
  .call(d3.axisLeft(yC).tickValues(cbTicks).tickSize(-9).tickFormat(""))
  .call(g=>styleAxis(g,"#444",1));
svg.append("g").attr("transform","translate(1213,0)")
  .call(d3.axisRight(yC).tickValues(cbTicks).tickSize(-9).tickFormat(""))
  .call(g=>styleAxis(g,"#444",1));
cbTicks.forEach(v=>svg.append("text").attr("x",1229).attr("y",yC(v)+6.5).attr("font-size",fBot).text(v));
svg.append("text").attr("transform","translate(1294,831) rotate(-90)").attr("text-anchor","middle").attr("font-size",fBot).style("letter-spacing","0.25px").text("Main-Beam Temperature [K]");
</script>
</body>
</html>
